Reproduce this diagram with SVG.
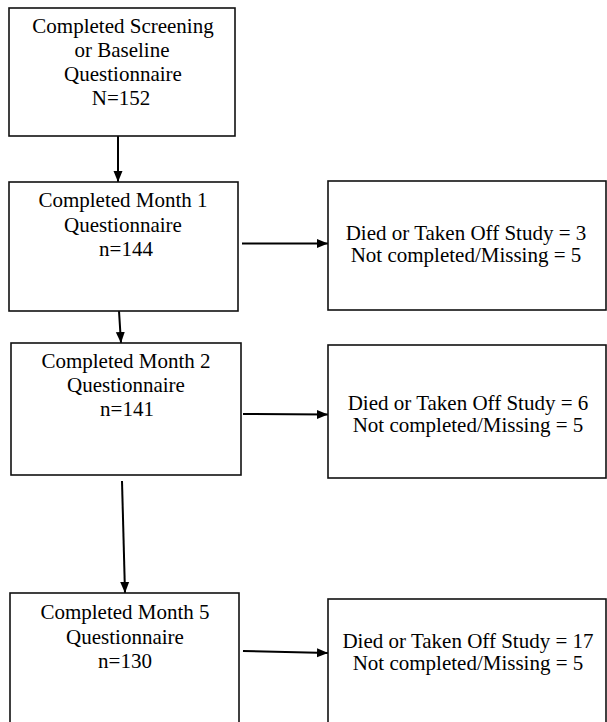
<svg xmlns="http://www.w3.org/2000/svg" width="607" height="722" viewBox="0 0 607 722">
<style>
.box{fill:#fff;stroke:#111;stroke-width:1.6}
.t{font-family:'Liberation Serif','Times New Roman',serif;font-size:21px;fill:#000;text-anchor:middle}
.c{stroke:#000;stroke-width:2;fill:none;marker-end:url(#ah)}
</style>
<defs>
<marker id="ah" markerUnits="userSpaceOnUse" markerWidth="12" markerHeight="10" refX="11" refY="5" orient="auto">
<path d="M0,0.5 L11,5 L0,9.5 z" fill="#000"/>
</marker>
</defs>
<rect width="607" height="722" fill="#fff"/>
<g id="connectors">
<line class="c" x1="118" y1="136" x2="118" y2="182"/>
<line class="c" x1="119" y1="311" x2="121" y2="343"/>
<line class="c" x1="122" y1="481" x2="125" y2="593"/>
<line class="c" x1="242" y1="243.5" x2="328" y2="243.5"/>
<line class="c" x1="243" y1="414" x2="328" y2="414.5"/>
<line class="c" x1="243" y1="651" x2="328" y2="653"/>
</g>
<g id="baseline">
<rect class="box" x="9" y="8" width="226" height="128"/>
<text class="t" x="123" y="33">Completed Screening</text>
<text class="t" x="122" y="57">or Baseline</text>
<text class="t" x="123" y="81">Questionnaire</text>
<text class="t" x="121" y="105">N=152</text>
</g>
<g id="month1">
<rect class="box" x="9" y="182" width="229" height="129"/>
<text class="t" x="123" y="207">Completed Month 1</text>
<text class="t" x="123" y="232">Questionnaire</text>
<text class="t" x="126" y="256">n=144</text>
</g>
<g id="drop1">
<rect class="box" x="328" y="181" width="278" height="129"/>
<text class="t" x="466" y="240">Died or Taken Off Study = 3</text>
<text class="t" x="466" y="262">Not completed/Missing = 5</text>
</g>
<g id="month2">
<rect class="box" x="11" y="343" width="230" height="132"/>
<text class="t" x="126" y="368">Completed Month 2</text>
<text class="t" x="126" y="392">Questionnaire</text>
<text class="t" x="127" y="416">n=141</text>
</g>
<g id="drop2">
<rect class="box" x="328" y="345" width="278" height="133"/>
<text class="t" x="468" y="410">Died or Taken Off Study = 6</text>
<text class="t" x="468" y="432">Not completed/Missing = 5</text>
</g>
<g id="month5">
<rect class="box" x="10" y="593" width="229" height="140"/>
<text class="t" x="125" y="619">Completed Month 5</text>
<text class="t" x="125" y="644">Questionnaire</text>
<text class="t" x="125" y="668">n=130</text>
</g>
<g id="drop3">
<rect class="box" x="328" y="599" width="278" height="134"/>
<text class="t" x="468" y="648">Died or Taken Off Study = 17</text>
<text class="t" x="468" y="670">Not completed/Missing = 5</text>
</g>
</svg>
